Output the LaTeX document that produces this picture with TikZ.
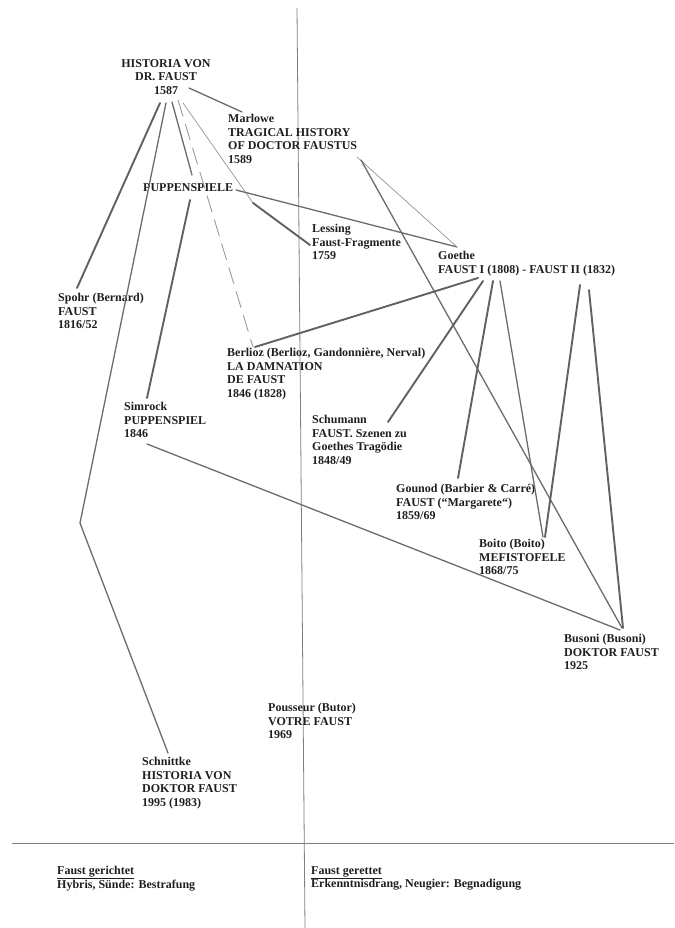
\documentclass[tikz,border=0pt]{standalone}
\usepackage{fontspec}
\setmainfont{Liberation Serif}
\usepackage{tikz}

\begin{document}
\begin{tikzpicture}[x=1pt, y=-1pt,
  work/.style={anchor=north west, inner sep=0pt, align=left, text=black!88,
    font=\bfseries\fontsize{12}{13.7}\selectfont},
  link/.style={draw=black!58, line width=1.3pt, line cap=round},
  thinlink/.style={draw=black!42, line width=0.7pt, line cap=round},
  thicklink/.style={draw=black!62, line width=1.9pt, line cap=round},
  dashlink/.style={draw=black!40, line width=0.9pt, dash pattern=on 17pt off 8pt},
  divider/.style={draw=black!50, line width=0.8pt}]
\useasboundingbox (0,0) rectangle (674,928);

% dividing lines
\draw[divider] (297,8) -- (305,928);
\draw[divider] (12,843) -- (674,843);

% works
\node[work, anchor=north, align=center] (historia) at (166,59) {HISTORIA VON\\DR. FAUST\\1587};
\node[work] (marlowe) at (228,114) {Marlowe\\TRAGICAL HISTORY\\OF DOCTOR FAUSTUS\\1589};
\node[work] (puppen) at (143,183) {PUPPENSPIELE};
\node[work] (lessing) at (312,224) {Lessing\\Faust-Fragmente\\1759};
\node[work] (goethe) at (438,251) {Goethe\\FAUST I (1808) - FAUST II (1832)};
\node[work] (spohr) at (58,293) {Spohr (Bernard)\\FAUST\\1816/52};
\node[work] (berlioz) at (227,348) {Berlioz (Berlioz, Gandonnière, Nerval)\\LA DAMNATION\\DE FAUST\\1846 (1828)};
\node[work] (simrock) at (124,402) {Simrock\\PUPPENSPIEL\\1846};
\node[work] (schumann) at (312,415) {Schumann\\FAUST. Szenen zu\\Goethes Tragödie\\1848/49};
\node[work] (gounod) at (396,484) {Gounod (Barbier \& Carré)\\FAUST (“Margarete“)\\1859/69};
\node[work] (boito) at (479,539) {Boito (Boito)\\MEFISTOFELE\\1868/75};
\node[work] (busoni) at (564,634) {Busoni (Busoni)\\DOKTOR FAUST\\1925};
\node[work] (pousseur) at (268,703) {Pousseur (Butor)\\VOTRE FAUST\\1969};
\node[work] (schnittke) at (142,757) {Schnittke\\HISTORIA VON\\DOKTOR FAUST\\1995 (1983)};

% legend
\node[work] (gerichtet) at (57,866) {\underline{Faust gerichtet}\\Hybris, Sünde: Bestrafung};
\node[work] (gerettet) at (311,866) {\underline{Faust gerettet}\\Erkenntnisdrang, Neugier: Begnadigung};

% bends
\coordinate (bend) at (80,523);
\coordinate (lbend) at (253,203);

% from the Historia
\draw[link] ([shift={(23,29)}]historia.north) -- ([shift={(14,-2)}]marlowe.north west);
\draw[thicklink] ([shift={(-6,44)}]historia.north) -- ([shift={(19,-5)}]spohr.north west);
\draw[link] ([shift={(0,44)}]historia.north) -- (bend) -- ([shift={(26,-4)}]schnittke.north west);
\draw[link] ([shift={(6,43)}]historia.north) -- ([shift={(49,-8)}]puppen.north west);
\draw[dashlink] ([shift={(12,41)}]historia.north) -- ([shift={(26,-1)}]berlioz.north west);
\draw[thinlink] ([shift={(17,44)}]historia.north) -- (lbend);
\draw[thicklink] (lbend) -- ([shift={(-2,21)}]lessing.north west);

% Puppenspiele and Marlowe
\draw[link] ([shift={(93,7)}]puppen.north west) -- ([shift={(19,-4)}]goethe.north west);
\draw[thicklink] ([shift={(47,17)}]puppen.north west) -- ([shift={(23,-4)}]simrock.north west);
\draw[thinlink] ([shift={(129,43)}]marlowe.north west) -- ([shift={(19,-4)}]goethe.north west);
\draw[link] ([shift={(133,46)}]marlowe.north west) -- ([shift={(58,-6)}]busoni.north west);

% from Goethe
\draw[thicklink] ([shift={(40,27)}]goethe.north west) -- ([shift={(28,-1)}]berlioz.north west);
\draw[thicklink] ([shift={(45,30)}]goethe.north west) -- ([shift={(76,7)}]schumann.north west);
\draw[thicklink] ([shift={(55,30)}]goethe.north west) -- ([shift={(62,-6)}]gounod.north west);
\draw[link] ([shift={(62,30)}]goethe.north west) -- ([shift={(64,-2)}]boito.north west);
\draw[thicklink] ([shift={(142,34)}]goethe.north west) -- ([shift={(66,-2)}]boito.north west);
\draw[thicklink] ([shift={(151,39)}]goethe.north west) -- ([shift={(59,-6)}]busoni.north west);

% Simrock
\draw[link] ([shift={(23,42)}]simrock.north west) -- ([shift={(56,-4)}]busoni.north west);
\end{tikzpicture}
\end{document}
